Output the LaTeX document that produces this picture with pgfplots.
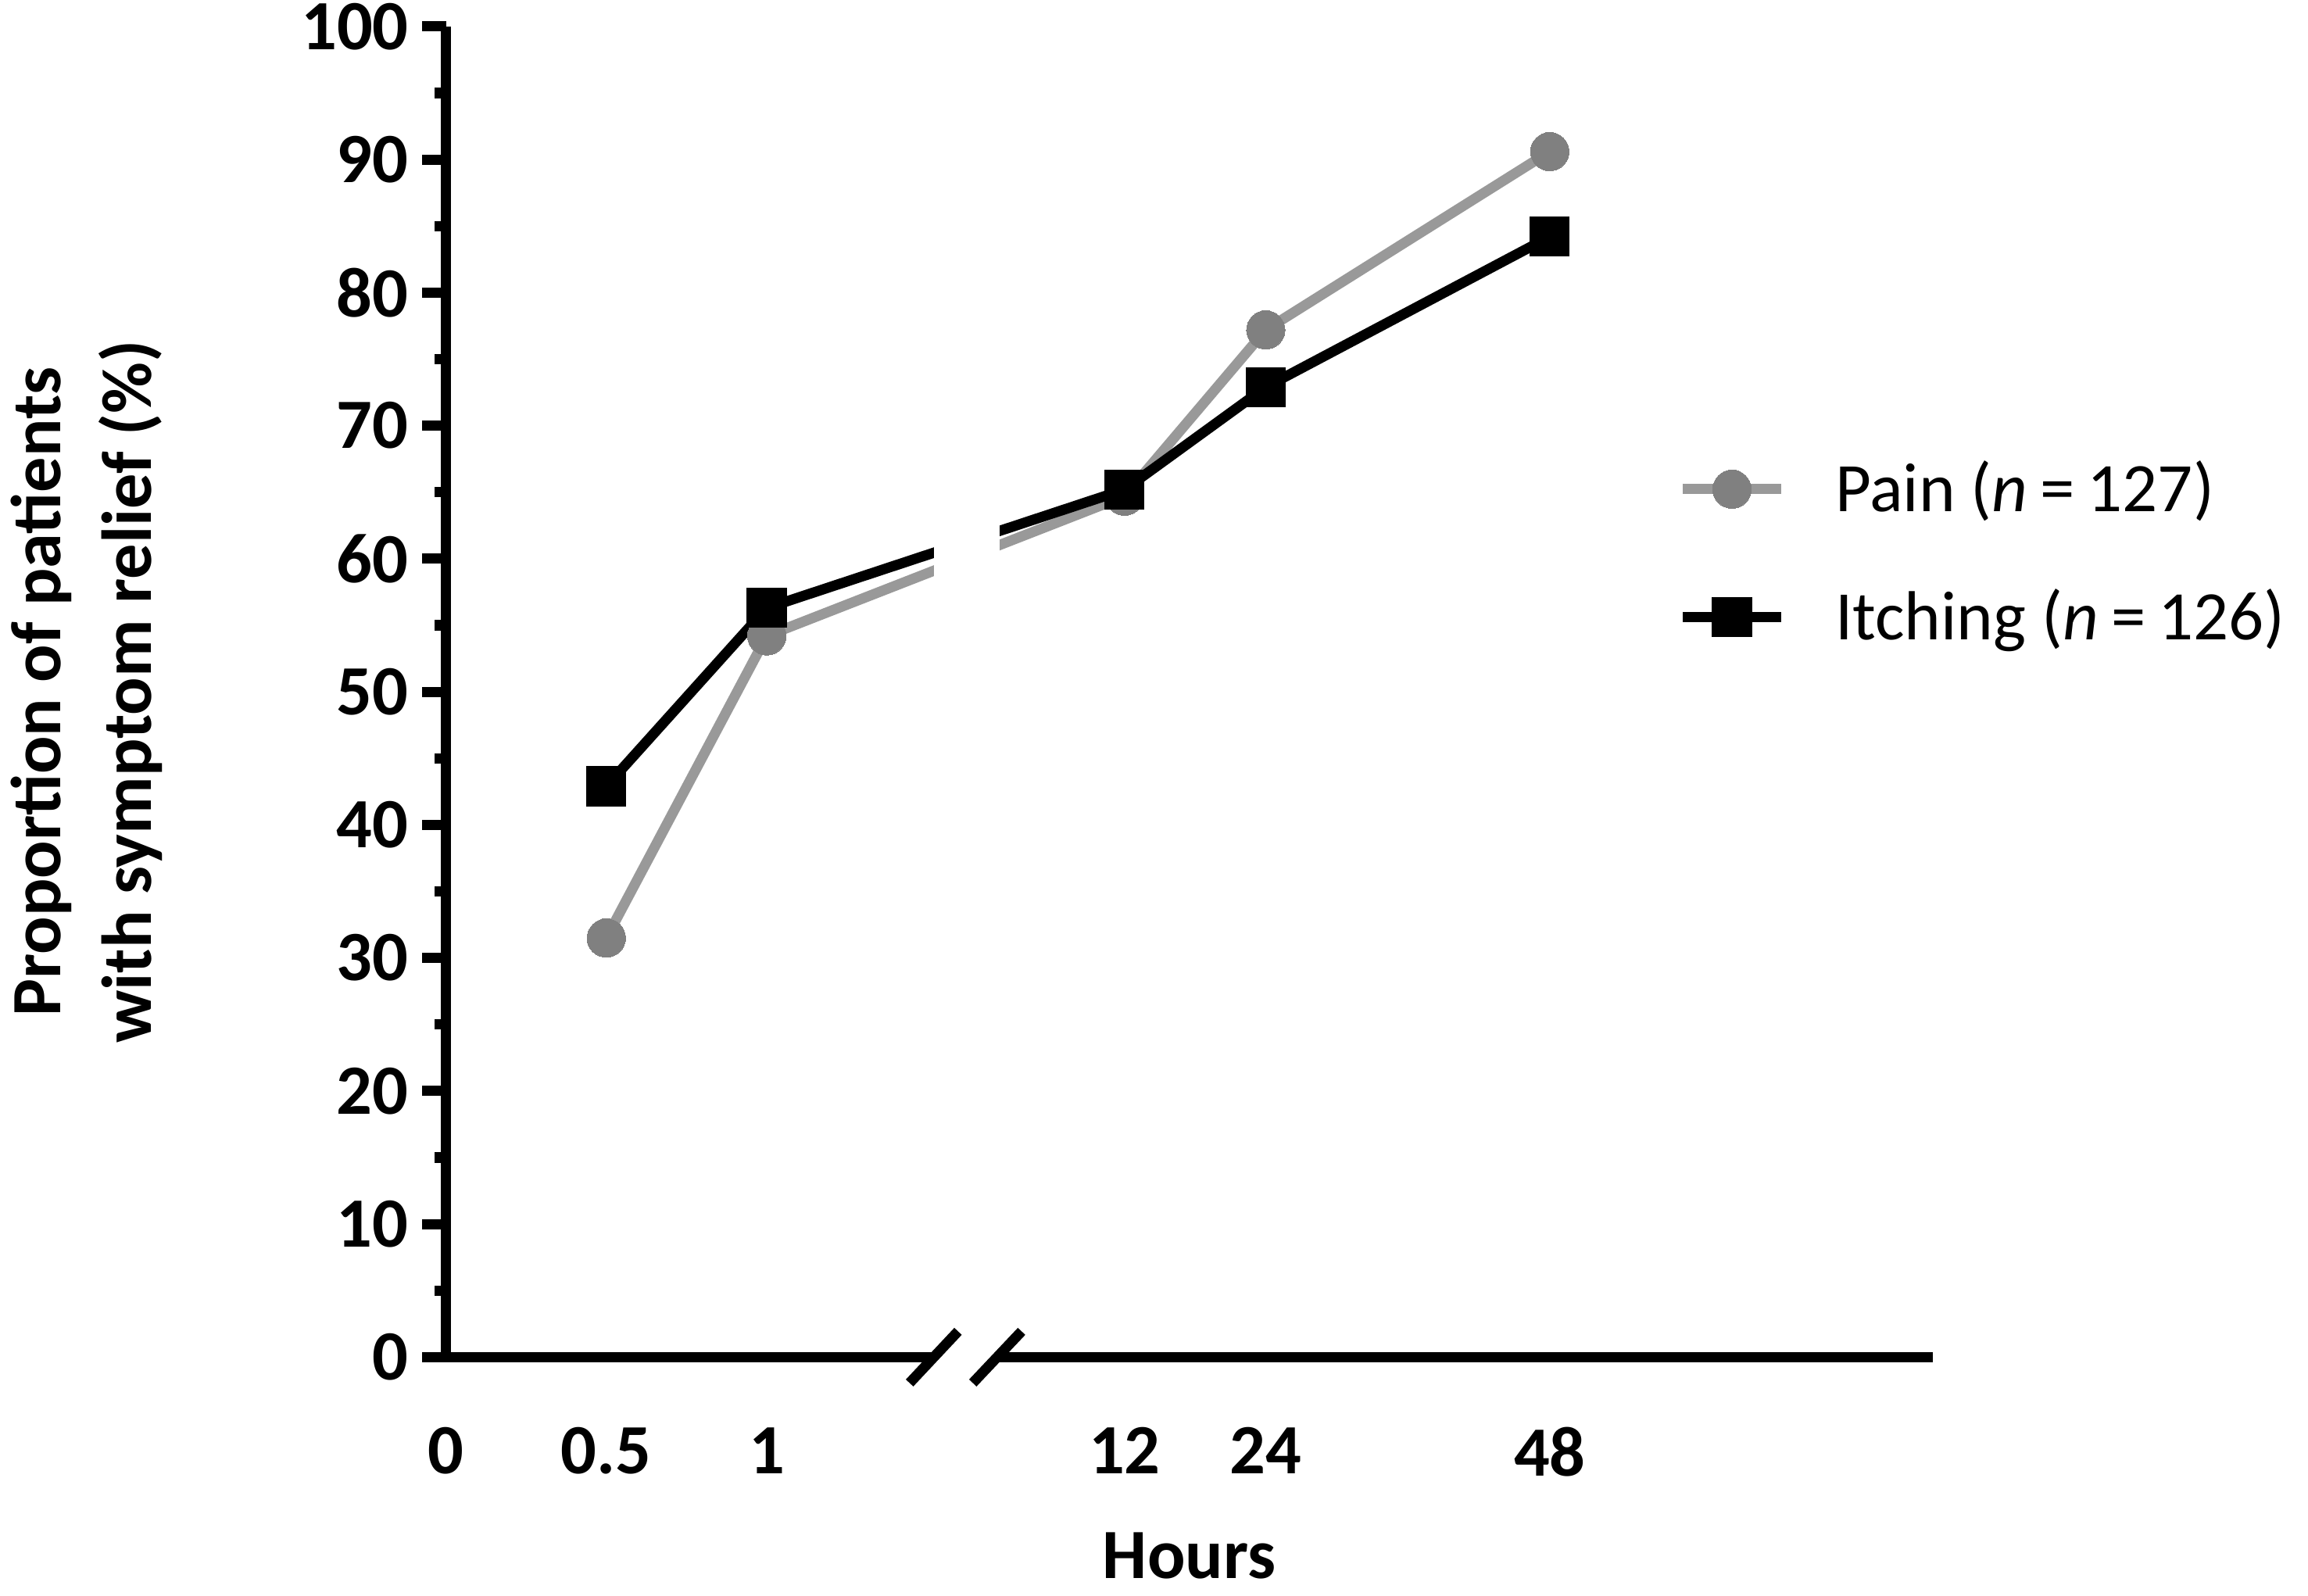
\documentclass[border=0pt]{standalone}
\usepackage{fontspec}
\setmainfont{Carlito}
\usepackage{pgfplots}
\pgfplotsset{compat=1.18}
\usepackage{pgfplotstable}

\definecolor{painline}{HTML}{999999}
\definecolor{painmark}{HTML}{808080}

% pos = position on the broken axis (0-1 h linear, then 12-48 h linear)
\pgfplotstableread{
hours pos pain itch
0.5 0.5 31.5 42.9
1 1 54.2 56.3
12 2.115 64.7 65.2
24 2.555 77.2 72.9
48 3.440 90.6 84.2
}\data

\begin{document}
\begin{tikzpicture}
\path[use as bounding box] (-113.6pt,-60.75pt) rectangle (474.4pt,345.75pt);
\begin{axis}[
  scale only axis, width=378.75pt, height=339pt,
  xmin=0, xmax=4.633, ymin=0, ymax=100,
  clip=false,
  axis lines=left,
  axis line style={-, line width=2.6pt, black},
  ytick={0,10,...,100},
  minor y tick num=1,
  tick align=outside,
  major tick length=6pt, minor tick length=2.8pt,
  y tick style={line width=2.6pt, black},
  xtick={0,0.5,1,2.115,2.555,3.44},
  xticklabels={0,0.5,1,12,24,48},
  x tick style={draw=none},
  tick label style={font=\bfseries\fontsize{18}{20}\selectfont},
  /pgf/number format/assume math mode=true,
  xticklabel style={yshift=-8.4pt},
  xlabel={Hours},
  xlabel style={at={(axis description cs:0.5,0)}, anchor=center, yshift=-50.5pt, font=\bfseries\fontsize{18}{20}\selectfont},
  ylabel={Proportion of patients\\with symptom relief (\%)},
  ylabel style={at={(axis description cs:-0.2416,0.5)}, anchor=center, align=center, font=\bfseries\fontsize{18}{23}\selectfont},
  legend cell align=left,
  legend image code/.code={\draw[mark repeat=2,mark phase=2] plot coordinates {(0pt,0pt) (12.5pt,0pt) (25pt,0pt)};},
  legend style={draw=none, fill=none, at={(axis cs:3.80,68.6)}, anchor=north west,
    font=\fontsize{17.7}{19.7}\selectfont, row sep=14.2pt,
    /tikz/every odd column/.append style={column sep=10.5pt}},
]
\addplot[painline, line width=2.6pt, mark=*, mark size=4.9pt, mark options={fill=painmark, draw=painmark, line width=0pt}]
  table[x=pos, y=pain] {\data};
\addlegendentry{Pain (\textit{n}\hspace{0.18em}=\hspace{0.18em}127)}
\addplot[black, line width=2.6pt, mark=square*, mark size=5pt, mark options={fill=black, draw=black, line width=0pt}]
  table[x=pos, y=itch] {\data};
\addlegendentry{Itching (\textit{n}\hspace{0.18em}=\hspace{0.18em}126)}
% axis break
\fill[white] (axis cs:1.52,-1.2) rectangle (axis cs:1.725,70);
\draw[line width=2.6pt] (axis cs:1.445,-1.94) -- (axis cs:1.596,1.94);
\draw[line width=2.6pt] (axis cs:1.642,-1.94) -- (axis cs:1.794,1.94);
\end{axis}
\end{tikzpicture}
\end{document}
